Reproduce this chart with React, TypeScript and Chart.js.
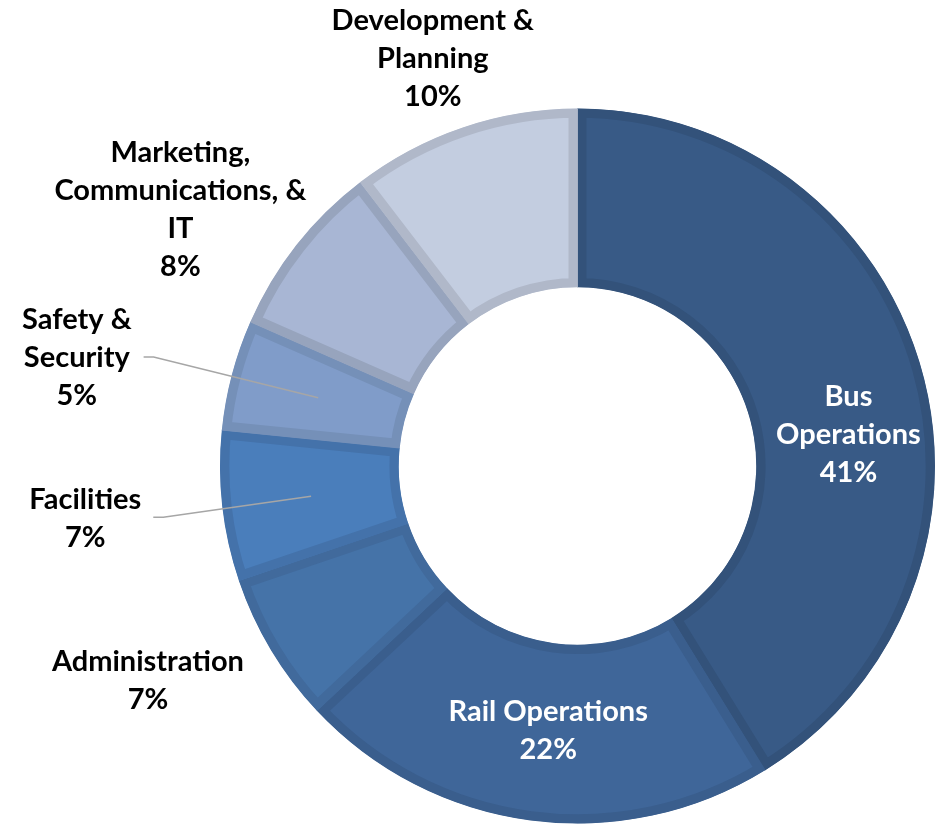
import React, { useEffect, useRef } from 'react';
import { Chart, registerables } from 'chart.js';

Chart.register(...registerables);

// ---- Data ----
const categories: string[][] = [
  ['Bus', 'Operations'],
  ['Rail Operations'],
  ['Administration'],
  ['Facilities'],
  ['Safety &', 'Security'],
  ['Marketing,', 'Communications, &', 'IT'],
  ['Development &', 'Planning'],
];
const shares: number[] = [41.2, 21.8, 6.8, 6.8, 5.0, 8.0, 10.4];

// ---- Styles ----
const fillColors = ['#385A86', '#3F6699', '#4573A8', '#4A7EBB', '#809CC9', '#A8B6D4', '#C3CDE0'];
const borderColors = ['#33527A', '#3A5E8D', '#416A9C', '#4472AA', '#7590B8', '#97A4BD', '#B0B8C9'];
const labelColors = ['#FFFFFF', '#FFFFFF', '#000000', '#000000', '#000000', '#000000', '#000000'];
// where each label sits relative to its slice: anchor radius, pixel offset, leader line
const labelAnchor = ['mid', 'mid', 'outer', 'outer', 'outer', 'outer', 'outer'];
const labelDX = [13, 6, -123, -137, -155, -116, -30];
const labelDY = [42, -1, 31, 12, -17, -35, -69];
const labelLeader = [false, false, false, true, true, false, false];

const FONT = 'bold 29px Lato';
const LINE_H = 38;

const labelPlugin = {
  id: 'sliceLabels',
  afterDatasetsDraw(chart: any) {
    const ctx: CanvasRenderingContext2D = chart.ctx;
    const meta = chart.getDatasetMeta(0);
    const total = shares.reduce((a, b) => a + b, 0);
    ctx.save();
    ctx.font = FONT;
    ctx.textAlign = 'center';
    ctx.textBaseline = 'middle';
    meta.data.forEach((arc: any, i: number) => {
      const p = arc.getProps(['x', 'y', 'startAngle', 'endAngle', 'innerRadius', 'outerRadius'], true);
      const mid = (p.startAngle + p.endAngle) / 2;
      const midR = (p.innerRadius + p.outerRadius) / 2;
      const r = labelAnchor[i] === 'mid' ? midR : p.outerRadius;
      const ax = p.x + Math.cos(mid) * r;
      const ay = p.y + Math.sin(mid) * r;
      const cx = ax + labelDX[i];
      const cy = ay + labelDY[i];
      const pct = Math.round((shares[i] / total) * 100) + '%';
      const lines = [...categories[i], pct];
      if (labelLeader[i]) {
        const w = Math.max(...lines.map((l) => ctx.measureText(l).width));
        const lx = p.x + Math.cos(mid) * midR;
        const ly = p.y + Math.sin(mid) * midR;
        ctx.strokeStyle = '#A6A6A6';
        ctx.lineWidth = 1.5;
        ctx.beginPath();
        ctx.moveTo(lx, ly);
        ctx.lineTo(cx + w / 2 + 22, cy - 1);
        ctx.lineTo(cx + w / 2 + 12, cy - 1);
        ctx.stroke();
      }
      ctx.fillStyle = labelColors[i];
      const y0 = cy - ((lines.length - 1) * LINE_H) / 2;
      lines.forEach((l, k) => ctx.fillText(l, cx, y0 + k * LINE_H));
    });
    ctx.restore();
  },
};

export default function App() {
  const ref = useRef<HTMLCanvasElement>(null);
  useEffect(() => {
    document.body.style.margin = '0';
    const canvas = ref.current!;
    const chart = new Chart(canvas, {
      type: 'doughnut',
      data: {
        labels: categories.map((c) => c.join(' ')),
        datasets: [
          {
            data: shares,
            backgroundColor: fillColors,
            borderColor: borderColors,
            borderWidth: 9,
            borderAlign: 'inner',
            borderJoinStyle: 'miter',
            hoverOffset: 0,
          } as any,
        ],
      },
      options: {
        animation: false,
        responsive: false,
        events: [],
        radius: 357.5,
        cutout: '50%',
        layout: { padding: { left: 220, right: 0, top: 106, bottom: 0 } },
        plugins: { legend: { display: false }, tooltip: { enabled: false } },
      } as any,
      plugins: [labelPlugin],
    });
    return () => chart.destroy();
  }, []);
  return (
    <div style={{ position: 'absolute', left: 0, top: 0, width: 935, height: 826, background: '#fff' }}>
      <canvas ref={ref} width={935} height={826} style={{ width: 935, height: 826, display: 'block' }} />
    </div>
  );
}
